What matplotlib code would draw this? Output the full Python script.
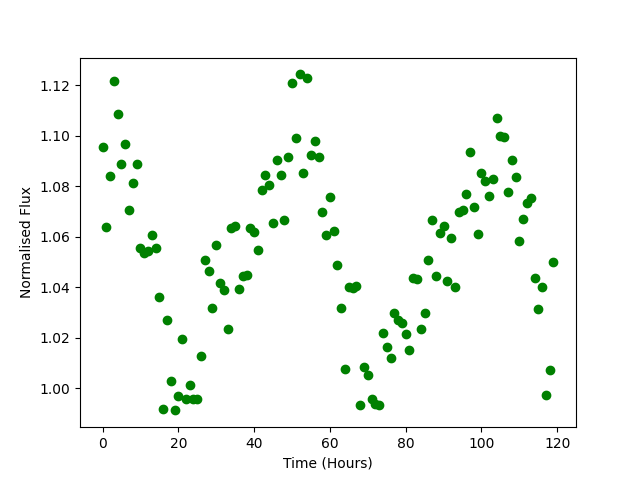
import matplotlib
matplotlib.use('Agg')
import matplotlib.pyplot as plt

hours = list(range(120))
flux = [
    1.0955, 1.0637, 1.0840, 1.1215, 1.1085, 1.0887, 1.0966, 1.0708, 1.0815, 1.0887,
    1.0555, 1.0535, 1.0543, 1.0606, 1.0555, 1.0360, 0.9917, 1.0270, 1.0030, 0.9913,
    0.9970, 1.0194, 0.9960, 1.0012, 0.9957, 0.9960, 1.0130, 1.0510, 1.0463, 1.0320,
    1.0567, 1.0416, 1.0390, 1.0235, 1.0634, 1.0642, 1.0393, 1.0445, 1.0447, 1.0634,
    1.0620, 1.0547, 1.0785, 1.0843, 1.0805, 1.0654, 1.0903, 1.0843, 1.0665, 1.0918,
    1.1210, 1.0990, 1.1243, 1.0852, 1.1228, 1.0922, 1.0978, 1.0918, 1.0700, 1.0606,
    1.0757, 1.0625, 1.0487, 1.0320, 1.0075, 1.0400, 1.0396, 1.0404, 0.9933, 1.0083,
    1.0055, 0.9960, 0.9940, 0.9933, 1.0218, 1.0162, 1.0119, 1.0297, 1.0270, 1.0257,
    1.0214, 1.0154, 1.0436, 1.0432, 1.0234, 1.0300, 1.0510, 1.0665, 1.0444, 1.0614,
    1.0642, 1.0424, 1.0594, 1.0400, 1.0697, 1.0705, 1.0768, 1.0935, 1.0720, 1.0610,
    1.0852, 1.0820, 1.0760, 1.0830, 1.1070, 1.1000, 1.0994, 1.0776, 1.0903, 1.0835,
    1.0582, 1.0669, 1.0733, 1.0752, 1.0436, 1.0313, 1.0400, 0.9972, 1.0071, 1.0500,
]

plt.figure(figsize=(6.4, 4.8), dpi=100)
plt.plot(hours, flux, 'go')
plt.xlabel('Time (Hours)')
plt.ylabel('Normalised Flux')
plt.savefig('out.png')
